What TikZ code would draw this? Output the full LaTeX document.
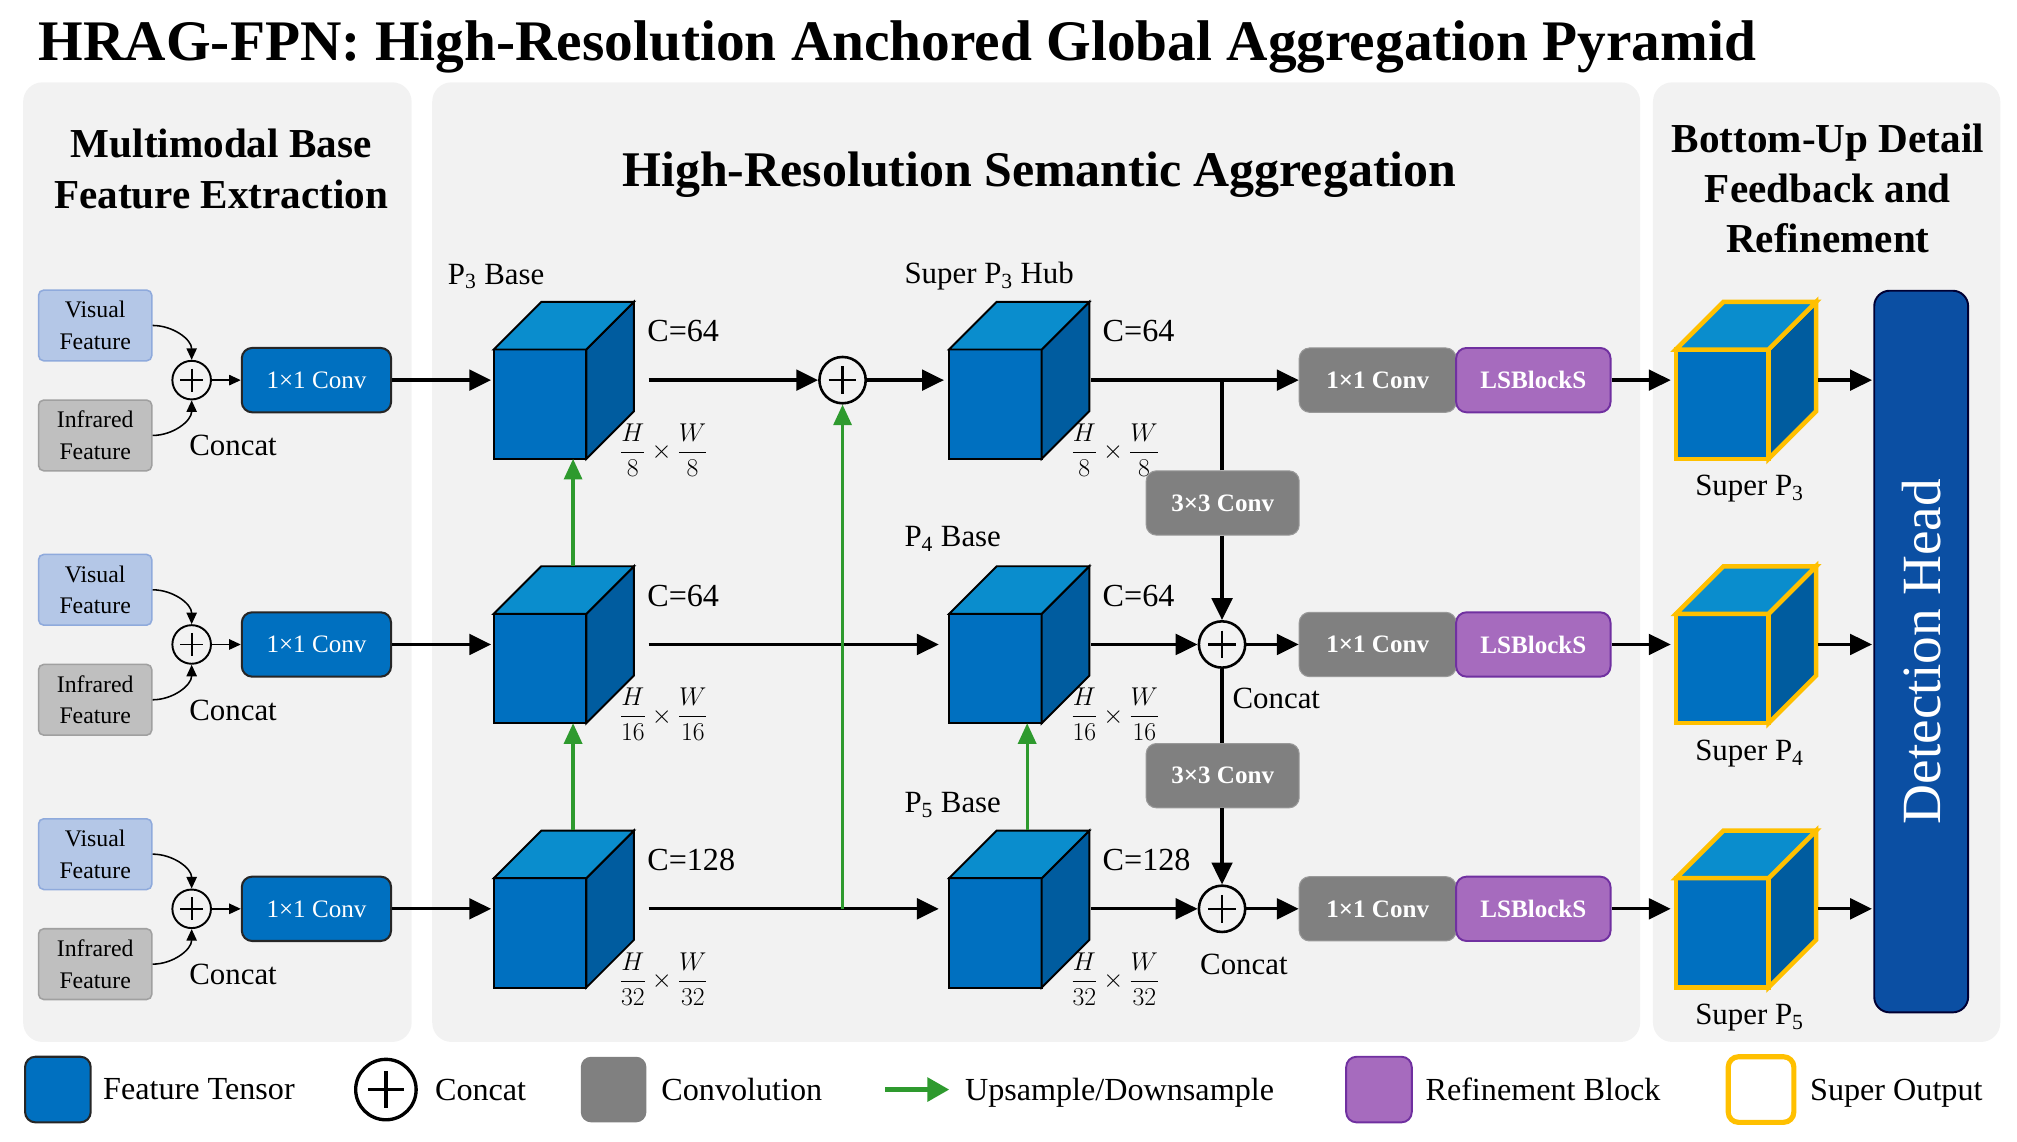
\documentclass[tikz,border=0pt]{standalone}
\usepackage{fix-cm}
\usepackage{amsmath}
\usepackage{fontspec}
\setmainfont{Liberation Serif}
\usepackage{graphicx}
\usetikzlibrary{arrows.meta, positioning, calc}

\definecolor{panelgray}{HTML}{F2F2F2}
\definecolor{tensorblue}{HTML}{0070C0}
\definecolor{tensortop}{HTML}{0A8DCD}
\definecolor{tensorside}{HTML}{005C9F}
\definecolor{visblue}{HTML}{B4C7E7}
\definecolor{visedge}{HTML}{8FAADC}
\definecolor{irgray}{HTML}{BFBFBF}
\definecolor{iredge}{HTML}{A0A0A0}
\definecolor{convgray}{HTML}{808080}
\definecolor{lspurple}{HTML}{A66BBE}
\definecolor{lsedge}{HTML}{7030A0}
\definecolor{superyellow}{HTML}{FFC000}
\definecolor{headblue}{HTML}{0B4FA3}
\definecolor{upgreen}{HTML}{2E9A2E}

% tensor cube: name, x, y, extra style
\newcommand{\tensorcube}[4]{%
  \node[cubebox] (#1) at (#2,#3) {};
  \filldraw[draw=black, line width=1.5pt, fill=tensorblue, #4] (#1.south west) rectangle ++(72,-85);
  \filldraw[draw=black, line width=1.5pt, fill=tensorside, #4] ($(#1.south west)+(72,0)$) -- ++(0,-85) -- ++(37,-37) -- ++(0,85) -- cycle;
  \filldraw[draw=black, line width=1.5pt, fill=tensortop, #4] ($(#1.south west)+(0,-85)$) -- ++(37,-37) -- ++(72,0) -- ++(-37,37) -- cycle;
}

\begin{document}
\begin{tikzpicture}[x=1pt, y=-1pt,
  panel/.style={fill=panelgray, rounded corners=15pt},
  heading/.style={font=\bfseries\fontsize{32}{39.5}\selectfont, align=center, inner sep=0pt},
  lbl/.style={font=\fontsize{24}{28}\selectfont, inner sep=0pt},
  legtxt/.style={font=\fontsize{25}{28}\selectfont, inner sep=0pt, anchor=west},
  dimlbl/.style={font=\fontsize{20}{24}\selectfont, inner sep=0pt},
  featbox/.style={rounded corners=4pt, line width=1.2pt, minimum width=88pt, minimum height=55pt, inner sep=0pt, align=center, font=\fontsize{18.5}{24.5}\selectfont},
  visbox/.style={featbox, fill=visblue, draw=visedge},
  irbox/.style={featbox, fill=irgray, draw=iredge},
  sumnode/.style={circle, draw, inner sep=0pt, line width=#1,
    path picture={\draw[line width=#1]
      ($(path picture bounding box.north)!0.2!(path picture bounding box.south)$) -- ($(path picture bounding box.north)!0.8!(path picture bounding box.south)$)
      ($(path picture bounding box.west)!0.2!(path picture bounding box.east)$) -- ($(path picture bounding box.west)!0.8!(path picture bounding box.east)$);}},
  cubebox/.style={minimum width=109pt, minimum height=122pt, inner sep=0pt},
  conv1x1/.style={fill=tensorblue, draw=black!85, line width=1.6pt, rounded corners=8pt, minimum width=116pt, minimum height=50pt, text=white, font=\fontsize{19.5}{23}\selectfont},
  convbox/.style={fill=convgray, draw=black!40, line width=0.8pt, rounded corners=8pt, minimum height=50pt, text=white, font=\bfseries\fontsize{19.5}{23}\selectfont},
  lsbox/.style={fill=lspurple, draw=lsedge, line width=1.5pt, rounded corners=8pt, minimum width=120pt, minimum height=50pt, text=white, font=\bfseries\fontsize{19.5}{23}\selectfont},
  headbox/.style={fill=headblue, draw=black!80!blue, line width=1.5pt, rounded corners=12pt, minimum width=73pt, minimum height=561pt, inner sep=0pt, text=white, font=\fontsize{43}{48}\selectfont},
  legsq/.style={minimum size=51pt, rounded corners=8pt, inner sep=0pt},
  flow/.style={line width=2.6pt, -{Triangle[length=17pt,width=16pt]}},
  plain/.style={line width=2.6pt},
  smallflow/.style={line width=1.2pt, -{Triangle[length=9pt,width=8pt]}},
  updown/.style={draw=upgreen, line width=2.5pt, -{Triangle[length=16pt,width=14pt]}}
]
  \useasboundingbox (0,0) rectangle (1568,887);

  % === PANELS ===
  \fill[panel] (18,64) rectangle (320,810);
  \fill[panel] (336,64) rectangle (1275,810);
  \fill[panel] (1285,64) rectangle (1555,810);

  \node[anchor=base west, inner sep=0pt, font=\bfseries\fontsize{44.6}{50}\selectfont] (title) at (30,47.4)
    {HRAG-FPN: High-Resolution Anchored Global Aggregation Pyramid};
  \node[heading, anchor=north] (leftHead) at (172,100) {Multimodal Base\\Feature Extraction};
  \node[heading, anchor=base, font=\bfseries\fontsize{38.8}{44}\selectfont] (midHead) at (808,145) {High-Resolution Semantic Aggregation};
  \node[heading, anchor=north, font=\bfseries\fontsize{32}{38.8}\selectfont] (rightHead) at (1421,96.3) {Bottom-Up Detail\\Feedback and\\Refinement};

  % === MULTIMODAL INPUTS ===
  \foreach \r/\y in {3/295.5, 4/501, 5/706.5} {
    \node[visbox] (vis\r) at (74,\y-42.5) {Visual\\Feature};
    \node[irbox] (ir\r) at (74,\y+43) {Infrared\\Feature};
    \node[sumnode=1.5pt, minimum size=30pt] (cat\r) at (149,\y) {};
    \node[conv1x1] (conv\r) at (246,\y) {1×1 Conv};
    \node[lbl, anchor=west] (catTxt\r) at (147,\y+51) {Concat};
    \draw[smallflow] (vis\r.east) to[out=0, in=90] (cat\r.north);
    \draw[smallflow] (ir\r.east) to[out=0, in=-90] (cat\r.south);
    \draw[smallflow] (cat\r) -- (conv\r);
  }

  % === TENSORS ===
  \tensorcube{feat3}{438.5}{295.5}{}
  \tensorcube{feat4}{438.5}{501}{}
  \tensorcube{feat5}{438.5}{706.5}{}
  \tensorcube{hub3}{792.5}{295.5}{}
  \tensorcube{base4}{792.5}{501}{}
  \tensorcube{base5}{792.5}{706.5}{}
  \tensorcube{sup3}{1357.5}{295.5}{draw=superyellow, line width=3.5pt}
  \tensorcube{sup4}{1357.5}{501}{draw=superyellow, line width=3.5pt}
  \tensorcube{sup5}{1357.5}{706.5}{draw=superyellow, line width=3.5pt}

  \node[lbl, anchor=west] (lblP3) at (348,215) {P\textsubscript{3} Base};
  \node[lbl, anchor=west] (lblHub) at (703,215) {Super P\textsubscript{3} Hub};
  \node[lbl, anchor=west] (lblP4) at (703,419) {P\textsubscript{4} Base};
  \node[lbl, anchor=west] (lblP5) at (703,626) {P\textsubscript{5} Base};
  \foreach \x in {503, 857} {
    \node[lbl, anchor=west, font=\fontsize{25}{28}\selectfont] at (\x,257.5) {C=64};
    \node[lbl, anchor=west, font=\fontsize{25}{28}\selectfont] at (\x,463) {C=64};
    \node[lbl, anchor=west, font=\fontsize{25}{28}\selectfont] at (\x,668.5) {C=128};
  }
  \foreach \x in {516, 867} {
    \node[dimlbl] at (\x,350) {$\dfrac{H}{8}\times\dfrac{W}{8}$};
    \node[dimlbl] at (\x,555.5) {$\dfrac{H}{16}\times\dfrac{W}{16}$};
    \node[dimlbl] at (\x,761) {$\dfrac{H}{32}\times\dfrac{W}{32}$};
  }
  \node[lbl] (lblS3) at (1360,380) {Super P\textsubscript{3}};
  \node[lbl] (lblS4) at (1360,586) {Super P\textsubscript{4}};
  \node[lbl] (lblS5) at (1360,791) {Super P\textsubscript{5}};

  % === AGGREGATION ===
  \node[sumnode=2pt, minimum size=36pt] (sum3) at (655,295.5) {};
  \node[sumnode=2pt, minimum size=36pt] (sum4) at (950,501) {};
  \node[sumnode=2pt, minimum size=36pt] (sum5) at (950,706.5) {};
  \node[lbl, anchor=west] (sumTxt4) at (958,543) {Concat};
  \node[lbl] (sumTxt5) at (967,750) {Concat};
  \node[convbox, minimum width=119pt] (down4) at (950.5,391) {3×3 Conv};
  \node[convbox, minimum width=119pt] (down5) at (950.5,603) {3×3 Conv};
  \foreach \r/\y in {3/295.5, 4/501, 5/706.5} {
    \node[convbox, minimum width=122pt] (gconv\r) at (1071,\y) {1×1 Conv};
    \node[lsbox] (ls\r) at (1192,\y) {LSBlockS};
  }
  \node[headbox] (head) at (1493.5,506.5) {\rotatebox{90}{Detection Head}};

  % Connections
  \foreach \r in {3,4,5} {
    \draw[flow, shorten >=2pt] (conv\r) -- (feat\r);
    \draw[flow, shorten >=4pt] (ls\r) -- (sup\r);
    \draw[flow, shorten <=1pt, shorten >=1pt] (sup\r) -- (sup\r -| head.west);
  }
  \draw[flow, shorten <=11pt] (feat3) -- (sum3);
  \draw[flow, shorten >=4pt] (sum3) -- (hub3);
  \draw[flow, shorten <=1pt] (hub3) -- (gconv3);
  \draw[plain] (sum4 |- down4.north) -- (sum4 |- hub3);
  \draw[flow] (sum4 |- down4.south) -- (sum4);
  \draw[flow, shorten <=11pt, shorten >=8pt] (feat4) -- (base4);
  \draw[flow, shorten <=1pt] (base4) -- (sum4);
  \draw[flow] (sum4) -- (gconv4);
  \draw[plain] (sum4) -- (sum4 |- down5.north);
  \draw[flow] (sum5 |- down5.south) -- (sum5);
  \draw[flow, shorten <=11pt, shorten >=8pt] (feat5) -- (base5);
  \draw[flow, shorten <=1pt] (base5) -- (sum5);
  \draw[flow] (sum5) -- (gconv5);

  % Upsample / downsample
  \draw[updown] ([xshift=7pt]feat4.north) -- ([xshift=7pt]feat3.south);
  \draw[updown] ([xshift=7pt]feat5.north) -- ([xshift=7pt]feat4.south);
  \draw[updown] ([xshift=6pt]base5.north) -- ([xshift=6pt]base4.south);
  \draw[updown] (sum3 |- feat5) -- (sum3);

  % === LEGEND ===
  \node[legsq, fill=tensorblue, draw=black!85, line width=1.6pt] (lgTensor) at (45,847) {};
  \node[legtxt] (lgTensorTxt) at (80,847) {Feature Tensor};
  \node[sumnode=2.6pt, minimum size=47pt] (lgConcat) at (300,847) {};
  \node[legtxt] (lgConcatTxt) at (338,847) {Concat};
  \node[legsq, fill=convgray] (lgConv) at (477,847) {};
  \node[legtxt] (lgConvTxt) at (514,847) {Convolution};
  \coordinate (lgUpFrom) at (688,847);
  \coordinate (lgUpTo) at (738,847);
  \draw[updown, line width=4pt, -{Triangle[length=17pt,width=18pt]}] (lgUpFrom) -- (lgUpTo);
  \node[legtxt, anchor=base west] (lgUpTxt) at (750,855.5) {Upsample/Downsample};
  \node[legsq, fill=lspurple, draw=lsedge, line width=1.5pt] (lgRefine) at (1072,847) {};
  \node[legtxt] (lgRefineTxt) at (1108,847) {Refinement Block};
  \node[legsq, fill=white, draw=superyellow, line width=4pt] (lgSuper) at (1369,847) {};
  \node[legtxt, anchor=base west] (lgSuperTxt) at (1407,855.5) {Super Output};
\end{tikzpicture}
\end{document}
